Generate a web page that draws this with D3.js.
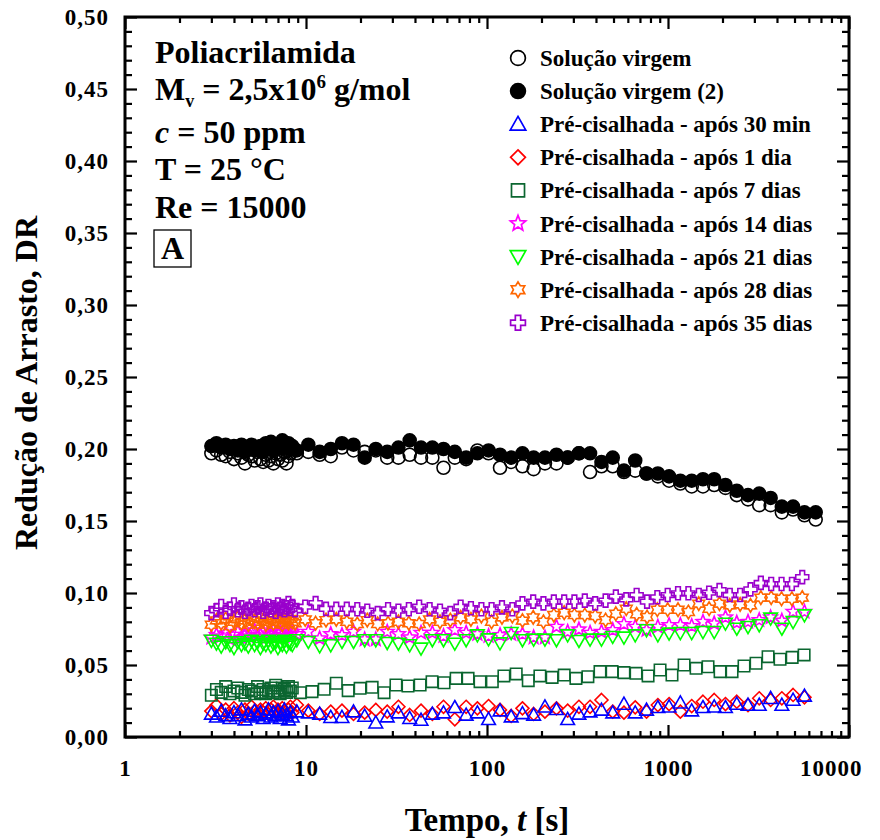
<!DOCTYPE html>
<html>
<head>
<meta charset="utf-8">
<script src="https://cdn.jsdelivr.net/npm/d3@7"></script>
<style>
  body { margin: 0; background: #fff; }
  text { font-family: "Liberation Serif", "Times New Roman", serif; font-weight: bold; fill: #000; }
</style>
</head>
<body>
<div id="chart"></div>
<script>

// Time values [s]
var tEarly = [3.0, 3.2, 3.4, 3.6, 3.8, 4.0, 4.2, 4.4, 4.6, 4.8, 5.0, 5.2, 5.4, 5.6, 5.8,
              6.0, 6.2, 6.4, 6.6, 6.8, 7.0, 7.2, 7.4, 7.6, 7.8, 8.0, 8.2, 8.4];
var tV = [8.9, 10.3, 11.9, 13.7, 15.8, 18.3, 21.1, 24.3, 28.1, 32.4, 37.4, 43.2, 49.9, 57.5, 66.4,
          76.7, 88.5, 102, 118, 136, 157, 181, 209, 242, 279, 322, 371, 429, 495, 571, 659, 761,
          879, 1014, 1170, 1352, 1560, 1800, 2077, 2399, 2767, 3192, 3690, 4256, 4909, 5675, 6546];
var tA = [8.7, 9.9, 11.3, 12.9, 14.7, 16.8, 19.2, 21.8, 24.9, 28.4, 32.4, 37.0, 42.2, 48.2, 55.0,
          62.7, 71.5, 81.5, 93.1, 106, 121, 138, 157, 180, 205, 234, 267, 304, 347, 396, 452, 515,
          588, 671, 766, 873, 996, 1136, 1296, 1479, 1687, 1924, 2195, 2504, 2857, 3258, 3716,
          4239, 4836, 5517];
var tC = [9.3, 10.8, 12.6, 14.7, 17.1, 19.9, 23.2, 27.0, 31.4, 36.6, 42.7, 49.7, 57.9, 67.5, 78.6,
          91.5, 107, 124, 145, 169, 196, 229, 267, 310, 361, 421, 491, 571, 666, 776, 904, 1052,
          1227, 1429, 1664, 1939, 2259, 2630, 3065, 3572, 4159, 4853, 5649];

// Drag reduction values (first 28 = tEarly, rest = late times)
var drVirgem = [0.197, 0.199, 0.196, 0.195, 0.198, 0.193, 0.197, 0.194, 0.190, 0.196, 0.195, 0.192, 0.198, 0.193,
                0.191, 0.196, 0.192, 0.195, 0.190, 0.197, 0.193, 0.196, 0.192, 0.198, 0.190, 0.195, 0.197, 0.199,
                0.197, 0.198, 0.196, 0.195, 0.201, 0.199, 0.198, 0.199, 0.194, 0.194, 0.196, 0.194, 0.194, 0.187,
                0.194, 0.193, 0.199, 0.197, 0.187, 0.191, 0.188, 0.186, 0.190, 0.190, 0.194, 0.197, 0.184, 0.188,
                0.188, 0.184, 0.185, 0.183, 0.181, 0.178, 0.176, 0.174, 0.174, 0.175, 0.173, 0.168, 0.165, 0.161,
                0.161, 0.156, 0.158, 0.154, 0.151];
var drVirgem2 = [0.202, 0.204, 0.201, 0.203, 0.200, 0.202, 0.199, 0.203, 0.198, 0.201, 0.203, 0.199, 0.200, 0.202,
                 0.198, 0.204, 0.201, 0.205, 0.199, 0.203, 0.200, 0.202, 0.206, 0.201, 0.203, 0.204, 0.200, 0.202,
                 0.199, 0.203, 0.198, 0.200, 0.204, 0.203, 0.194, 0.200, 0.198, 0.201, 0.206, 0.201, 0.201, 0.200,
                 0.198, 0.194, 0.197, 0.199, 0.196, 0.194, 0.197, 0.194, 0.194, 0.196, 0.194, 0.197, 0.197, 0.191,
                 0.194, 0.185, 0.192, 0.183, 0.183, 0.181, 0.178, 0.178, 0.179, 0.179, 0.175, 0.171, 0.168, 0.169,
                 0.166, 0.160, 0.160, 0.156, 0.156];
var dr30min = [0.016, 0.014, 0.018, 0.015, 0.013, 0.017, 0.015, 0.019, 0.012, 0.016, 0.014, 0.018, 0.015, 0.017,
               0.013, 0.016, 0.019, 0.014, 0.017, 0.015, 0.018, 0.013, 0.016, 0.019, 0.015, 0.012, 0.017, 0.014,
               0.0176, 0.0169, 0.016, 0.0137, 0.0137, 0.0176, 0.0146, 0.0099, 0.0141, 0.0169, 0.013, 0.0118,
               0.016, 0.0169, 0.0206, 0.0153, 0.0169, 0.0123, 0.0183, 0.0141, 0.0164, 0.0153, 0.021, 0.0192,
               0.0123, 0.016, 0.0176, 0.0188, 0.0169, 0.0229, 0.0169, 0.0188, 0.0206, 0.021, 0.0238, 0.0183,
               0.0206, 0.021, 0.0206, 0.0229, 0.0222, 0.0222, 0.0269, 0.0222, 0.0257, 0.0285];
var dr1dia = [0.018, 0.022, 0.016, 0.019, 0.015, 0.020, 0.017, 0.014, 0.019, 0.016, 0.021, 0.018, 0.015, 0.019,
              0.017, 0.020, 0.016, 0.019, 0.021, 0.017, 0.019, 0.016, 0.020, 0.018, 0.015, 0.019, 0.021, 0.017,
              0.0222, 0.0183, 0.016, 0.0176, 0.0183, 0.016, 0.0169, 0.0188, 0.0176, 0.021, 0.0153, 0.0183,
              0.016, 0.021, 0.0123, 0.021, 0.0199, 0.0215, 0.0188, 0.0146, 0.0199, 0.016, 0.0176, 0.0199,
              0.0183, 0.021, 0.021, 0.0257, 0.0176, 0.0169, 0.0206, 0.0176, 0.0222, 0.0229, 0.0176, 0.0215,
              0.0245, 0.0257, 0.0229, 0.0245, 0.0222, 0.0269, 0.0257, 0.0269, 0.0292, 0.0276];
var dr7dias = [0.029, 0.033, 0.031, 0.035, 0.030, 0.032, 0.034, 0.031, 0.029, 0.033, 0.032, 0.030, 0.035, 0.031,
               0.033, 0.030, 0.032, 0.034, 0.031, 0.036, 0.032, 0.030, 0.034, 0.033, 0.031, 0.035, 0.032, 0.034,
               0.0308, 0.0315, 0.0331, 0.0373, 0.0322, 0.0338, 0.0345, 0.0308, 0.0361, 0.0354, 0.0361, 0.0384,
               0.0377, 0.0407, 0.0407, 0.0384, 0.0384, 0.0424, 0.0438, 0.0391, 0.0424, 0.0414, 0.043, 0.0407,
               0.0419, 0.0454, 0.0454, 0.0447, 0.0442, 0.0424, 0.0465, 0.043, 0.05, 0.0477, 0.0488, 0.0454,
               0.0454, 0.0493, 0.0512, 0.0558, 0.054, 0.0553, 0.057];
var dr14dias = [0.069, 0.071, 0.070, 0.072, 0.068, 0.071, 0.073, 0.069, 0.071, 0.070, 0.072, 0.074, 0.070, 0.071,
                0.073, 0.069, 0.072, 0.071, 0.074, 0.070, 0.072, 0.073, 0.071, 0.070, 0.074, 0.072, 0.071, 0.073,
                0.0715, 0.0731, 0.0685, 0.0715, 0.0708, 0.0731, 0.0678, 0.0678, 0.0731, 0.0715, 0.0692, 0.0724,
                0.0724, 0.0701, 0.0743, 0.0724, 0.0715, 0.0701, 0.0708, 0.0715, 0.0715, 0.0692, 0.0692, 0.0766,
                0.0731, 0.0747, 0.0724, 0.0731, 0.0743, 0.0785, 0.0766, 0.0743, 0.0766, 0.0778, 0.0778, 0.0771,
                0.080, 0.0789, 0.0831, 0.0794, 0.080, 0.0812, 0.0831, 0.0808, 0.087, 0.087];
var dr21dias = [0.067, 0.065, 0.063, 0.066, 0.064, 0.062, 0.066, 0.064, 0.065, 0.063, 0.067, 0.064, 0.066, 0.062,
                0.065, 0.064, 0.067, 0.063, 0.065, 0.066, 0.062, 0.065, 0.064, 0.067, 0.063, 0.066, 0.065, 0.064,
                0.0674, 0.0662, 0.0632, 0.0639, 0.0662, 0.0662, 0.0674, 0.0674, 0.0655, 0.065, 0.0639, 0.0616,
                0.0674, 0.0674, 0.065, 0.0674, 0.0708, 0.068, 0.0652, 0.0724, 0.0674, 0.0678, 0.0678, 0.0674,
                0.0708, 0.0669, 0.0678, 0.0678, 0.0697, 0.0692, 0.0708, 0.0743, 0.0708, 0.072, 0.0724, 0.0724,
                0.0731, 0.0731, 0.0789, 0.0754, 0.0766, 0.0778, 0.0824, 0.0754, 0.080, 0.0847];
var dr28dias = [0.078, 0.081, 0.079, 0.082, 0.077, 0.080, 0.083, 0.079, 0.081, 0.078, 0.082, 0.080, 0.079, 0.083,
                0.081, 0.078, 0.080, 0.082, 0.079, 0.081, 0.083, 0.080, 0.078, 0.082, 0.081, 0.079, 0.082, 0.080,
                0.079, 0.0817, 0.079, 0.0812, 0.0817, 0.080, 0.0785, 0.0812, 0.0785, 0.079, 0.080, 0.079, 0.0785,
                0.0817, 0.080, 0.0812, 0.0831, 0.0817, 0.084, 0.080, 0.0831, 0.084, 0.0808, 0.0831, 0.080, 0.0847,
                0.0863, 0.0847, 0.0847, 0.084, 0.0812, 0.0856, 0.0891, 0.0852, 0.0833, 0.0884, 0.0884, 0.0884,
                0.0868, 0.0926, 0.0891, 0.0926, 0.0914, 0.0921, 0.0914, 0.0968, 0.0968, 0.096, 0.096, 0.0968];
var dr35dias = [0.086, 0.088, 0.091, 0.087, 0.089, 0.092, 0.088, 0.090, 0.087, 0.089, 0.091, 0.088, 0.090, 0.092,
                0.087, 0.089, 0.091, 0.088, 0.090, 0.087, 0.092, 0.089, 0.091, 0.088, 0.090, 0.093, 0.089, 0.091,
                0.088, 0.0905, 0.093, 0.089, 0.089, 0.089, 0.0887, 0.0877, 0.086, 0.0887, 0.0877, 0.0887, 0.0905,
                0.0887, 0.0877, 0.086, 0.0905, 0.0894, 0.0887, 0.0887, 0.090, 0.0887, 0.0928, 0.094, 0.0928, 0.094,
                0.094, 0.094, 0.0947, 0.0928, 0.0947, 0.0975, 0.0956, 0.0986, 0.094, 0.097, 0.0986, 0.0998,
                0.0998, 0.0986, 0.1002, 0.102, 0.0986, 0.0986, 0.1025, 0.107, 0.1062, 0.1062, 0.1062, 0.111];

// Axis ticks
var xMajor = [1, 10, 100, 1000, 10000];
var yMajor = [0, 0.05, 0.10, 0.15, 0.20, 0.25, 0.30, 0.35, 0.40, 0.45, 0.50];

var series = [
  { label: "Solução virgem", t: tEarly.concat(tV), v: drVirgem, shape: "circle", color: "#000", fill: "none" },
  { label: "Solução virgem (2)", t: tEarly.concat(tV), v: drVirgem2, shape: "circle", color: "#000", fill: "#000" },
  { label: "Pré-cisalhada - após 30 min", t: tEarly.concat(tV), v: dr30min, shape: "triUp", color: "#0000ff", fill: "none" },
  { label: "Pré-cisalhada - após 1 dia", t: tEarly.concat(tV), v: dr1dia, shape: "diamond", color: "#ff0000", fill: "none" },
  { label: "Pré-cisalhada - após 7 dias", t: tEarly.concat(tC), v: dr7dias, shape: "square", color: "#0b6630", fill: "none" },
  { label: "Pré-cisalhada - após 14 dias", t: tEarly.concat(tV), v: dr14dias, shape: "star5", color: "#ff00ff", fill: "none" },
  { label: "Pré-cisalhada - após 21 dias", t: tEarly.concat(tV), v: dr21dias, shape: "triDown", color: "#00ff00", fill: "none" },
  { label: "Pré-cisalhada - após 28 dias", t: tEarly.concat(tA), v: dr28dias, shape: "star6", color: "#ff6600", fill: "none" },
  { label: "Pré-cisalhada - após 35 dias", t: tEarly.concat(tA), v: dr35dias, shape: "cross", color: "#9900cc", fill: "none" }
];

var svgWidth = 880, svgHeight = 840;
var plot = { left: 125, right: 849, top: 17, bottom: 737 };

var svg = d3.select("#chart").append("svg")
  .attr("width", svgWidth)
  .attr("height", svgHeight);

var xScale = d3.scaleLog().domain([1, 10000]).range([plot.left, plot.right]);
var yScale = d3.scaleLinear().domain([0, 0.5]).range([plot.bottom, plot.top]);

// minor ticks
var xMinor = [];
xMajor.slice(0, -1).forEach(function(d) {
  for (var i = 2; i <= 9; i++) xMinor.push(d * i);
});
var yMinor = d3.range(0, 51).map(function(i) { return i / 100; })
  .filter(function(d) { return Math.round(d * 100) % 5 !== 0; });

var fmtY = function(d) { return d3.format(".2f")(d).replace(".", ","); };

function drawAxis(gen, transform, values, size, labels) {
  var g = svg.append("g")
    .attr("transform", transform)
    .call(gen.tickValues(values).tickSize(size).tickFormat(labels ? labels : ""));
  g.select(".domain").remove();
  g.selectAll(".tick line").attr("stroke", "#000").attr("stroke-width", 2.2);
  g.selectAll(".tick text").attr("font-size", 23).attr("font-family", "Liberation Serif, serif")
    .attr("font-weight", "bold").attr("fill", "#000").attr("letter-spacing", 1);
  return g;
}

// bottom / top
var xAxisG = drawAxis(d3.axisBottom(xScale).tickPadding(23), "translate(0," + plot.bottom + ")", xMajor, -12, d3.format("d"));
// last label pulled inside the picture, as in the original
xAxisG.selectAll(".tick text").filter(function(d) { return d === 10000; })
  .attr("text-anchor", "end").attr("x", 13);
drawAxis(d3.axisBottom(xScale), "translate(0," + plot.bottom + ")", xMinor, -6, null);
drawAxis(d3.axisTop(xScale), "translate(0," + plot.top + ")", xMajor, -12, null);
drawAxis(d3.axisTop(xScale), "translate(0," + plot.top + ")", xMinor, -6, null);
// left / right
drawAxis(d3.axisLeft(yScale).tickPadding(16), "translate(" + plot.left + ",0)", yMajor, -12, fmtY);
drawAxis(d3.axisLeft(yScale), "translate(" + plot.left + ",0)", yMinor, -7, null);
drawAxis(d3.axisRight(yScale), "translate(" + plot.right + ",0)", yMajor, -12, null);
drawAxis(d3.axisRight(yScale), "translate(" + plot.right + ",0)", yMinor, -7, null);

// frame
svg.append("rect")
  .attr("x", plot.left).attr("y", plot.top)
  .attr("width", plot.right - plot.left).attr("height", plot.bottom - plot.top)
  .attr("fill", "none").attr("stroke", "#000").attr("stroke-width", 3);

// marker shapes
function starPath(n, outer, inner) {
  var pts = [];
  for (var i = 0; i < 2 * n; i++) {
    var r = i % 2 === 0 ? outer : inner;
    var a = -Math.PI / 2 + i * Math.PI / n;
    pts.push([r * Math.cos(a), r * Math.sin(a)]);
  }
  return "M" + pts.map(function(p) { return p[0].toFixed(2) + "," + p[1].toFixed(2); }).join("L") + "Z";
}

function shapePath(shape, s) {
  switch (shape) {
    case "circle": return d3.symbol(d3.symbolCircle, Math.PI * s * s)();
    case "triUp": return "M0," + (-s * 1.05) + "L" + (s * 1.05) + "," + (s * 0.8) + "L" + (-s * 1.05) + "," + (s * 0.8) + "Z";
    case "triDown": return "M0," + (s * 1.05) + "L" + (s * 1.05) + "," + (-s * 0.8) + "L" + (-s * 1.05) + "," + (-s * 0.8) + "Z";
    case "diamond": return "M0," + (-s) + "L" + s + ",0L0," + s + "L" + (-s) + ",0Z";
    case "square": return "M" + (-s * 0.88) + "," + (-s * 0.88) + "h" + (s * 1.76) + "v" + (s * 1.76) + "h" + (-s * 1.76) + "Z";
    case "star5": return starPath(5, s * 1.1, s * 0.48);
    case "star6": return starPath(6, s * 1.05, s * 0.62);
    case "cross":
      var a = s * 0.36, b = s;
      return "M" + (-a) + "," + (-b) + "H" + a + "V" + (-a) + "H" + b + "V" + a + "H" + a + "V" + b +
             "H" + (-a) + "V" + a + "H" + (-b) + "V" + (-a) + "H" + (-a) + "Z";
  }
}

// data points
var drawOrder = [0, 1, 3, 2, 4, 5, 6, 7, 8];
drawOrder.forEach(function(si) {
  var s = series[si];
  var pts = s.v.map(function(v, i) { return { t: s.t[i], v: v }; });
  svg.append("g").selectAll("path")
    .data(pts)
    .enter().append("path")
      .attr("d", shapePath(s.shape, 6.5))
      .attr("transform", function(d) { return "translate(" + xScale(d.t) + "," + yScale(d.v) + ")"; })
      .attr("fill", s.fill)
      .attr("stroke", s.color)
      .attr("stroke-width", 1.6);
});

// legend
var legend = svg.append("g").attr("transform", "translate(518,58)");
series.forEach(function(s, i) {
  var row = legend.append("g").attr("transform", "translate(0," + (i * 33.1) + ")");
  row.append("path")
    .attr("d", shapePath(s.shape, 7.4))
    .attr("fill", s.fill)
    .attr("stroke", s.color)
    .attr("stroke-width", 1.7);
  row.append("text")
    .attr("x", 22).attr("y", 8)
    .attr("font-size", 23)
    .text(s.label);
});

// annotation block
var note = svg.append("g").attr("font-size", 32);
note.append("text").attr("x", 155).attr("y", 63).text("Poliacrilamida");
var mv = note.append("text").attr("x", 155).attr("y", 100);
mv.append("tspan").text("M");
mv.append("tspan").attr("font-size", 18).attr("dy", 7).text("v");
mv.append("tspan").attr("dy", -7).text(" = 2,5x10");
mv.append("tspan").attr("font-size", 19).attr("dy", -12).text("6");
mv.append("tspan").attr("dy", 12).text(" g/mol");
var conc = note.append("text").attr("x", 155).attr("y", 143);
conc.append("tspan").attr("font-style", "italic").text("c");
conc.append("tspan").text(" = 50 ppm");
note.append("text").attr("x", 155).attr("y", 180).text("T = 25 °C");
note.append("text").attr("x", 155).attr("y", 218).text("Re = 15000");
note.append("rect")
  .attr("x", 154).attr("y", 230).attr("width", 37).attr("height", 37)
  .attr("fill", "none").attr("stroke", "#000").attr("stroke-width", 1.3);
note.append("text").attr("x", 172.5).attr("y", 259).attr("text-anchor", "middle").text("A");

// axis titles
svg.append("text")
  .attr("transform", "translate(37," + ((plot.top + plot.bottom) / 2 + 6) + ") rotate(-90)")
  .attr("text-anchor", "middle")
  .attr("font-size", 32)
  .text("Redução de Arrasto, DR");

var xt = svg.append("text")
  .attr("x", (plot.left + plot.right) / 2)
  .attr("y", 831)
  .attr("text-anchor", "middle")
  .attr("font-size", 33);
xt.append("tspan").text("Tempo, ");
xt.append("tspan").attr("font-style", "italic").text("t");
xt.append("tspan").text(" [s]");

</script>
</body>
</html>
